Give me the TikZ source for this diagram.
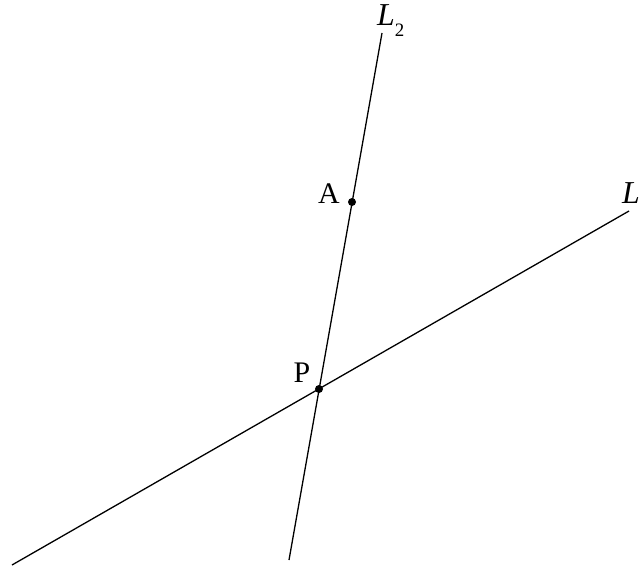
\documentclass[tikz,border=0pt]{standalone}
\usepackage{fontspec}
\setmainfont{Liberation Serif}
\begin{document}
\begin{tikzpicture}[x=1bp,y=-1bp,
  ln/.style={line width=1.3bp,black},
  dotpt/.style={circle,fill=black,inner sep=0pt,minimum size=8bp},
  lbl/.style={font=\fontsize{30}{34}\selectfont,inner sep=0pt},
  llbl/.style={font=\fontsize{32}{36}\selectfont\itshape,inner sep=0pt}]
\useasboundingbox (0,0) rectangle (643,569);
\coordinate (L2top) at (382,33);
\coordinate (L2bot) at (289,560);
\coordinate (Lr) at (629,211);
\coordinate (Ll) at (12,565);
\node[dotpt] (A) at (352,202) {};
\node[dotpt] (P) at (319,389) {};
\draw[ln] (L2top) -- (L2bot);
\draw[ln] (Ll) -- (Lr);
\node[lbl,anchor=base] (Alab) at (329,203) {A};
\node[lbl,anchor=base] (Plab) at (302,382) {P};
\node[llbl,anchor=base west] (L2lab) at (377,26) {L\textup{\fontsize{19}{21}\selectfont\raisebox{-11bp}{2}}};
\node[llbl,anchor=base] (Llab) at (631,203) {L};
\end{tikzpicture}
\end{document}
